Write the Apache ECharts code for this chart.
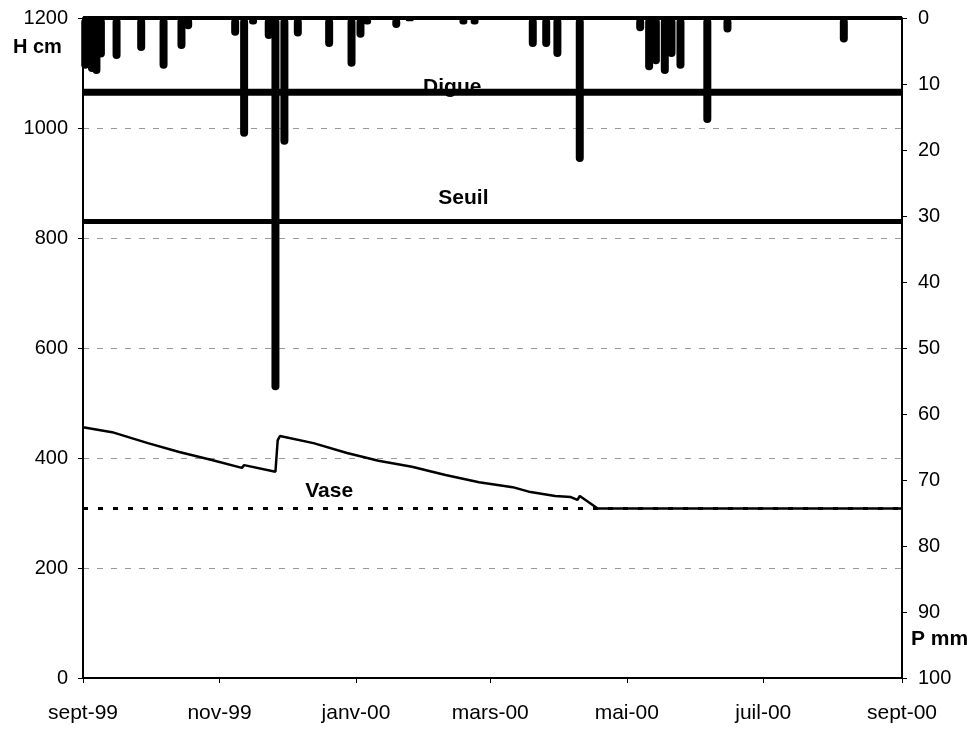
<!DOCTYPE html>
<html>
<head>
<meta charset="utf-8">
<script src="https://cdn.jsdelivr.net/npm/echarts@6/dist/echarts.min.js"></script>
<style>html,body{margin:0;padding:0;background:#fff}#c{width:980px;height:732px}</style>
</head>
<body>
<div id="c"></div>
<script>
// ---- data ----
const startDate = '1999-09-01';
const endDate = '2000-09-01';
const monthTickDates = ['1999-09-01','1999-11-01','2000-01-01','2000-03-01','2000-05-01','2000-07-01','2000-09-01'];
const monthTickLabels = ['sept-99','nov-99','janv-00','mars-00','mai-00','juil-00','sept-00'];

const levelDates = ['1999-09-01','1999-09-14','1999-09-30','1999-10-14','1999-10-29','1999-11-11','1999-11-12','1999-11-26','1999-11-27','1999-11-28','1999-12-13','1999-12-28','2000-01-11','2000-01-26','2000-02-10','2000-02-25','2000-03-11','2000-03-19','2000-03-30','2000-04-06','2000-04-09','2000-04-10','2000-04-18','2000-09-01'];
const levelValues = [456,447,427,411,396,382,387,375,432,440,427,409,395,384,369,356,347,338,331,329,324,331,308,308];

const rainDates = ['1999-09-02','1999-09-05','1999-09-07','1999-09-09','1999-09-16','1999-09-27','1999-10-07','1999-10-15','1999-10-18','1999-11-08','1999-11-12','1999-11-16','1999-11-23','1999-11-26','1999-11-30','1999-12-06','1999-12-20','1999-12-30','2000-01-03','2000-01-06','2000-01-19','2000-01-25','2000-02-18','2000-02-23','2000-03-20','2000-03-26','2000-03-31','2000-04-10','2000-05-07','2000-05-11','2000-05-14','2000-05-18','2000-05-21','2000-05-25','2000-06-06','2000-06-15','2000-08-06'];
const rainValues = [7.7,8.2,8.5,6,6.2,5,7.7,4.7,1.7,2.7,18,1,3.2,56.4,19.2,2.8,4.4,7.4,3,1,1.5,0.5,1,1,4.4,4.4,5.9,21.8,2,7.9,7,8.5,5.9,7.7,15.9,2.2,3.7];

const digueLevel = 1065;
const seuilLevel = 830;
const vaseLevel = 308;

const refLabels = ['Digue','Seuil','Vase'];
const refLabelDates = ['2000-02-13','2000-02-18','1999-12-20'];
const refLabelValues = [1075,873,340];

const leftTicks = {min:0,max:1200,interval:200};
const rightTicks = {min:0,max:100,interval:10};

// ---- helpers ----
const DAY0 = Date.parse(startDate+'T00:00:00Z');
function dayOf(s){return Math.round((Date.parse(s+'T00:00:00Z')-DAY0)/86400000);}
const dayMax = dayOf(endDate);
const tickDays = monthTickDates.map(dayOf);

const chart = echarts.init(document.getElementById('c'));
const FONT = '"Liberation Sans", Arial, sans-serif';

const flat = v => [[0,v],[dayMax,v]];

chart.setOption({
  animation:false,
  backgroundColor:'#fff',
  grid:{left:83,right:78,top:18,bottom:54,show:false},
  xAxis:{type:'value',min:0,max:dayMax,
    axisLine:{show:true,onZero:false,lineStyle:{color:'#000',width:2}},
    axisTick:{show:true,customValues:tickDays,length:5,lineStyle:{color:'#000'}},
    axisLabel:{customValues:tickDays,formatter:(v)=>monthTickLabels[tickDays.indexOf(Math.round(v))]||'',
      color:'#000',fontSize:21,fontFamily:FONT,margin:25},
    splitLine:{show:false}},
  yAxis:[
    {type:'value',min:leftTicks.min,max:leftTicks.max,interval:leftTicks.interval,position:'left',
      axisLine:{show:true,lineStyle:{color:'#000',width:2}},
      axisTick:{show:true,length:5,lineStyle:{color:'#000'}},
      axisLabel:{color:'#000',fontSize:20,fontFamily:FONT,margin:15,
        formatter:v=>String(v)},
      splitLine:{show:true,lineStyle:{color:'#999',type:[6,8],width:1}}},
    {type:'value',min:rightTicks.min,max:rightTicks.max,interval:rightTicks.interval,position:'right',inverse:true,
      axisLine:{show:true,lineStyle:{color:'#000',width:2}},
      axisTick:{show:true,length:5,lineStyle:{color:'#000'}},
      axisLabel:{color:'#000',fontSize:20,fontFamily:FONT,margin:16},
      splitLine:{show:false}}
  ],
  graphic:[
    {type:'text',left:13,top:37,style:{text:'H cm',font:'bold 20px '+FONT,fill:'#000'}},
    {type:'text',left:911,top:629,style:{text:'P mm',font:'bold 21px '+FONT,fill:'#000'}}
  ],
  series:[
    {name:'labels',type:'scatter',yAxisIndex:0,symbolSize:0,z:1,silent:true,
      itemStyle:{opacity:1,color:'#000'},
      data:refLabels.map((t,i)=>({value:[dayOf(refLabelDates[i]),refLabelValues[i]],name:t})),
      label:{show:true,position:'inside',formatter:p=>p.name,color:'#000',opacity:1,textBorderWidth:0,
        fontSize:21,fontWeight:'bold',fontFamily:FONT}},
    {name:'Vase',type:'line',yAxisIndex:0,data:flat(vaseLevel),symbol:'none',z:3,
      lineStyle:{color:'#000',width:3,type:[5,10]}},
    {name:'Niveau',type:'line',yAxisIndex:0,data:levelDates.map((d,i)=>[dayOf(d),levelValues[i]]),symbol:'none',z:4,
      lineStyle:{color:'#000',width:2.5}},
    {name:'Seuil',type:'line',yAxisIndex:0,data:flat(seuilLevel),symbol:'none',z:4,
      lineStyle:{color:'#000',width:5}},
    {name:'Digue',type:'line',yAxisIndex:0,data:flat(digueLevel),symbol:'none',z:4,
      lineStyle:{color:'#000',width:7}},
    {name:'Top',type:'line',yAxisIndex:0,data:flat(leftTicks.max),symbol:'none',z:5,clip:false,
      lineStyle:{color:'#000',width:4}},
    {name:'Right',type:'line',yAxisIndex:0,data:[[dayMax,0],[dayMax,leftTicks.max]],symbol:'none',z:5,clip:false,
      lineStyle:{color:'#000',width:2}},
    {name:'Pluie',type:'bar',yAxisIndex:1,barWidth:8,z:6,
      data:rainDates.map((d,i)=>[dayOf(d),rainValues[i]]),
      itemStyle:{color:'#000',borderRadius:4}}
  ]
});
</script>
</body>
</html>
